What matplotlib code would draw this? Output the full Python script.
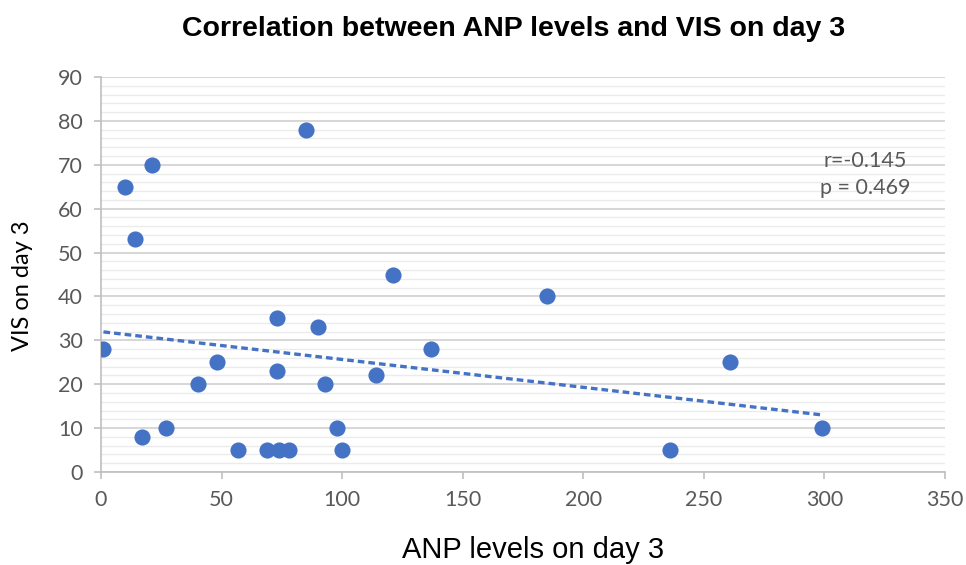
import matplotlib
matplotlib.use("Agg")
import matplotlib.pyplot as plt
import numpy as np
from matplotlib.ticker import MultipleLocator

# data
anp_day3 = [1, 10, 14, 21, 17, 27, 40, 48, 57, 69, 74, 78, 73, 73, 85,
            90, 93, 98, 100, 114, 121, 137, 185, 236, 261, 299]
vis_day3 = [28, 65, 53, 70, 8, 10, 20, 25, 5, 5, 5, 5, 35, 23, 78,
            33, 20, 10, 5, 22, 45, 28, 40, 5, 25, 10]
x_ticks = [0, 50, 100, 150, 200, 250, 300, 350]
y_ticks = [0, 10, 20, 30, 40, 50, 60, 70, 80, 90]
stats_text = "r=-0.145\np = 0.469"

blue = "#4472C4"
grey_txt = "#595959"

fig = plt.figure(figsize=(9.66, 5.65), dpi=100)
ax = fig.add_axes([0.1046, 0.1646, 0.8737, 0.6991])

ax.scatter(anp_day3, vis_day3, s=135, color=blue, zorder=3, linewidths=0)

# linear trendline over the data range
x = np.array(anp_day3, dtype=float)
y = np.array(vis_day3, dtype=float)
k, b = np.polyfit(x, y, 1)
xs = np.array([x.min(), x.max()])
ax.plot(xs, k * xs + b, color=blue, lw=2.4, linestyle=(0, (2, 1.2)), zorder=2)

ax.set_xlim(0, 350)
ax.set_ylim(0, 90)
ax.set_xticks(x_ticks)
ax.set_yticks(y_ticks)
ax.yaxis.set_minor_locator(MultipleLocator(2))

ax.grid(axis="y", which="major", color="#d0d0d0", lw=1.2, zorder=0)
ax.grid(axis="y", which="minor", color="#ebebeb", lw=1.0, zorder=0)
ax.set_axisbelow(True)

for s in ["top", "right"]:
    ax.spines[s].set_visible(False)
for s in ["left", "bottom"]:
    ax.spines[s].set_color("#bfbfbf")
    ax.spines[s].set_linewidth(1.2)

ax.tick_params(axis="both", which="major", colors="#bfbfbf", length=5, width=1.2,
               labelcolor=grey_txt, labelsize=15.5, pad=8)
ax.tick_params(axis="y", which="minor", length=0)
for lab in ax.get_xticklabels() + ax.get_yticklabels():
    lab.set_family("Lato")

ax.text(317, 67.7, stats_text, fontsize=15.5, family="Lato", color=grey_txt,
        ha="center", va="center", linespacing=1.45)

fig.text(0.532, 0.948, "Correlation between ANP levels and VIS on day 3",
         ha="center", va="center", fontsize=20.5, fontweight="bold",
         family="Liberation Sans", color="black")
fig.text(0.552, 0.027, "ANP levels on day 3", ha="center", va="center",
         fontsize=21, family="Liberation Sans", color="black")
fig.text(0.023, 0.495, "VIS on day 3", ha="center", va="center", rotation=90,
         fontsize=17, family="Lato", color="black")

fig.savefig("out.png", dpi=100)
